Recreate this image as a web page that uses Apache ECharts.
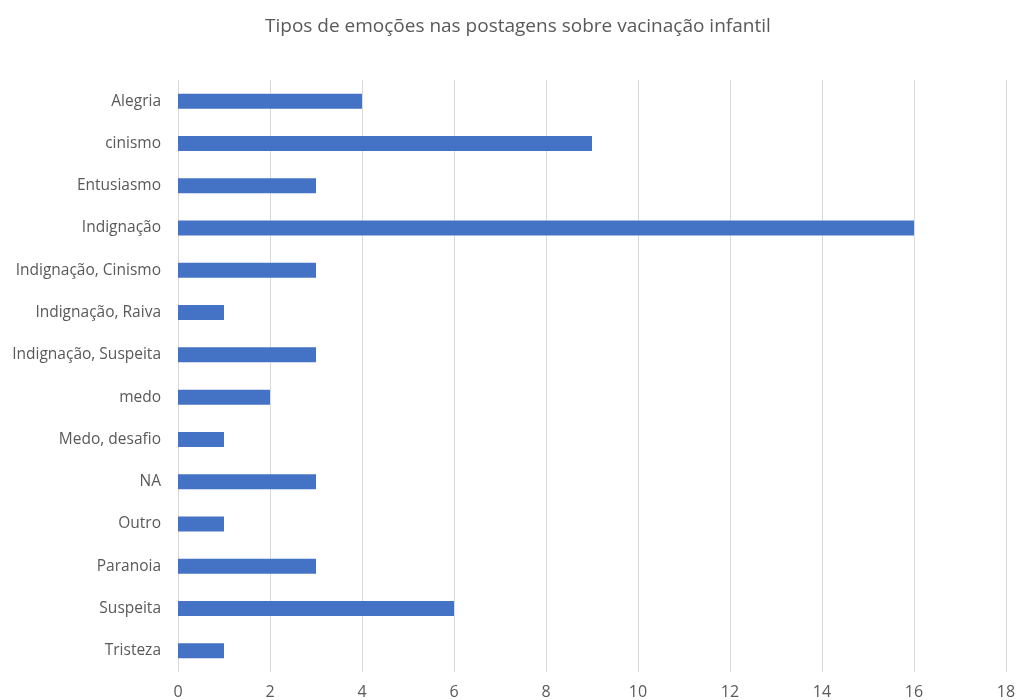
<!DOCTYPE html>
<html>
<head>
<meta charset="utf-8">
<script src="https://cdn.jsdelivr.net/npm/echarts@6/dist/echarts.min.js"></script>
<style>html,body{margin:0;padding:0;background:#fff}#c{width:1019px;height:700px}</style>
</head>
<body>
<div id="c"></div>
<script>
const categories = ["Alegria","cinismo","Entusiasmo","Indignação","Indignação, Cinismo","Indignação, Raiva","Indignação, Suspeita","medo","Medo, desafio","NA","Outro","Paranoia","Suspeita","Tristeza"];
const values = [4,9,3,16,3,1,3,2,1,3,1,3,6,1];
const xTicks = [0,2,4,6,8,10,12,14,16,18];
const titleText = "Tipos de emoções nas postagens sobre vacinação infantil";

const font = "'Open Sans', sans-serif";
const chart = echarts.init(document.getElementById('c'), null, {renderer:'canvas'});
chart.setOption({
  animation:false,
  title:{text:titleText,left:260,top:12,textStyle:{fontFamily:font,fontSize:19,fontWeight:'normal',color:'#595959'}},
  grid:{left:178,right:13,top:80,bottom:28,containLabel:false},
  xAxis:{type:'value',min:xTicks[0],max:xTicks[xTicks.length-1],interval:2,
    axisLine:{show:false},axisTick:{show:false},
    splitLine:{lineStyle:{color:'#d9d9d9',width:1}},
    axisLabel:{fontFamily:font,fontSize:16,color:'#595959',margin:12}},
  yAxis:{type:'category',data:categories,inverse:true,
    axisLine:{show:false},axisTick:{show:false},
    axisLabel:{fontFamily:font,fontSize:15.5,color:'#595959',margin:17}},
  series:[{type:'bar',data:values,barWidth:15,itemStyle:{color:'#4472C4'}}]
});
</script>
</body>
</html>
